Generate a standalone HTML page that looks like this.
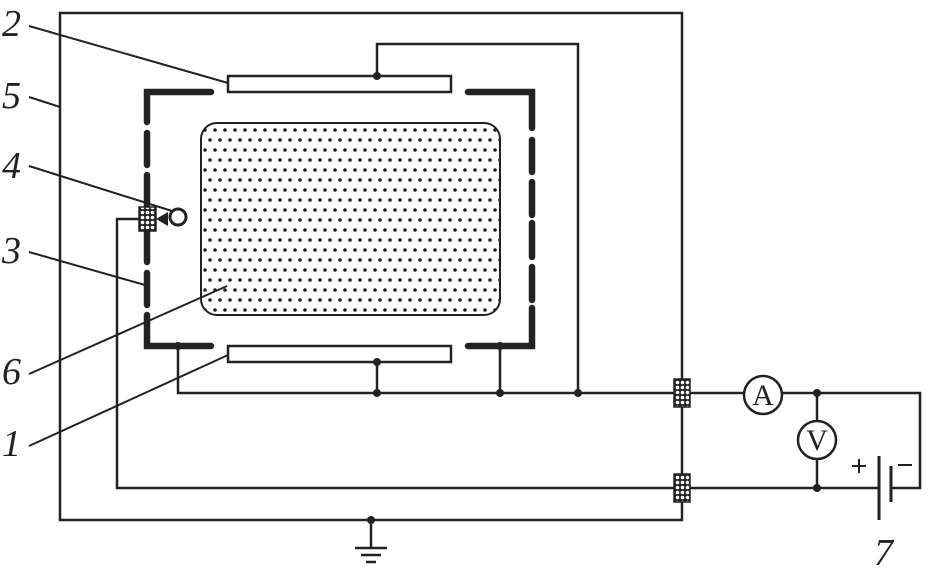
<!DOCTYPE html>
<html><head><style>body{margin:0;background:#fff}svg{display:block}text{font-family:"Liberation Serif",serif;font-style:italic;font-size:38px;fill:#222}</style></head><body>
<svg width="936" height="575" viewBox="0 0 936 575" xmlns="http://www.w3.org/2000/svg">
<defs>
<pattern id="dots" width="10" height="20" patternUnits="userSpaceOnUse" x="202" y="128">
<circle cx="3" cy="2" r="1.8" fill="#222"/><circle cx="8" cy="12" r="1.8" fill="#222"/>
</pattern>
<pattern id="chk" width="5" height="5" patternUnits="userSpaceOnUse">
<rect width="5" height="5" fill="#222"/><circle cx="2.5" cy="2.5" r="1.8" fill="#fff"/>
</pattern>
</defs>
<g stroke="#222" stroke-width="2.5" fill="none">
<rect x="60" y="13" width="622" height="507"/>
<line x1="371" y1="520" x2="371" y2="548"/>
<line x1="355" y1="548" x2="387" y2="548"/>
<line x1="361" y1="555" x2="381" y2="555"/>
<line x1="366" y1="562" x2="376" y2="562"/>
<rect x="228" y="76" width="223" height="16" fill="#fff"/>
<rect x="228" y="346" width="223" height="16" fill="#fff"/>
<polyline points="377,76 377,44 578,44 578,393"/>
<line x1="377" y1="362" x2="377" y2="393"/>
<polyline points="178,346 178,393 920,393 920,488 891,488"/>
<line x1="500" y1="346" x2="500" y2="393"/>
<polyline points="879,488 117,488 117,219 148,219"/>
<line x1="817" y1="393" x2="817" y2="488"/>
<line x1="879" y1="456" x2="879" y2="520" stroke-width="3"/>
<line x1="891" y1="466" x2="891" y2="502" stroke-width="3"/>
<line x1="852" y1="466" x2="866" y2="466" stroke-width="2"/><line x1="859" y1="459" x2="859" y2="473" stroke-width="2"/>
<line x1="898" y1="465" x2="912" y2="465" stroke-width="2"/>
<rect x="201" y="123" width="299" height="192" rx="16" fill="url(#dots)" stroke-width="2"/>
<line x1="29" y1="26" x2="228" y2="83" stroke-width="2"/>
<line x1="29" y1="97" x2="60" y2="107" stroke-width="2"/>
<line x1="29" y1="166" x2="172" y2="211" stroke-width="2"/>
<line x1="29" y1="252" x2="145" y2="285" stroke-width="2"/>
<line x1="29" y1="374" x2="227" y2="286" stroke-width="2"/>
<line x1="29" y1="446" x2="228" y2="355" stroke-width="2"/>
<circle cx="763" cy="395" r="19" fill="#fff"/>
<circle cx="817" cy="440" r="19" fill="#fff"/>
<circle cx="178" cy="217" r="8" fill="#fff" stroke-width="3"/>
</g>
<g stroke="#222" stroke-width="6.5" stroke-linecap="round" fill="none">
<polyline points="211,92 147,92 147,122"/>
<line x1="147" y1="133" x2="147" y2="165"/>
<line x1="147" y1="175" x2="147" y2="262"/>
<line x1="147" y1="273" x2="147" y2="305"/>
<polyline points="147,315 147,346 211,346"/>
<polyline points="468,92 532,92 532,128"/>
<line x1="532" y1="140" x2="532" y2="172"/>
<line x1="532" y1="182" x2="532" y2="215"/>
<line x1="532" y1="223" x2="532" y2="257"/>
<line x1="532" y1="267" x2="532" y2="300"/>
<polyline points="532,308 532,346 468,346"/>
</g>
<polygon points="156,219 168,212 168,226" fill="#222"/>
<g fill="#222">
<circle cx="377" cy="76" r="4"/><circle cx="377" cy="362" r="4"/>
<circle cx="178" cy="346" r="4"/><circle cx="500" cy="346" r="4"/>
<circle cx="377" cy="393" r="4"/><circle cx="500" cy="393" r="4"/><circle cx="578" cy="393" r="4"/>
<circle cx="817" cy="393" r="4"/><circle cx="817" cy="488" r="4"/><circle cx="371" cy="520" r="4"/>
</g>
<g stroke="#222" stroke-width="1.5" fill="url(#chk)">
<rect x="139" y="207" width="17" height="24"/>
<rect x="674" y="379" width="16" height="28"/>
<rect x="674" y="474" width="16" height="28"/>
</g>
<text x="763" y="405" text-anchor="middle" style="font-style:normal;font-size:30px">A</text>
<text x="817" y="450" text-anchor="middle" style="font-style:normal;font-size:30px">V</text>
<text x="2" y="36">2</text>
<text x="2" y="108">5</text>
<text x="2" y="178">4</text>
<text x="2" y="263">3</text>
<text x="2" y="384">6</text>
<text x="2" y="456">1</text>
<text x="874" y="565">7</text>
</svg>
</body></html>
